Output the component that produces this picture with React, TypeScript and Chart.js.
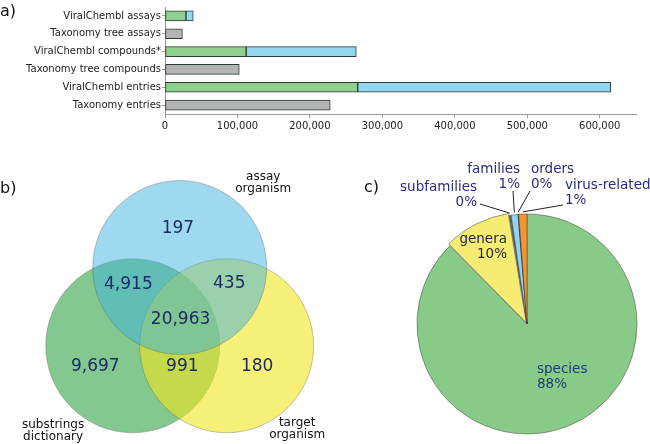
import React, { useEffect, useRef } from 'react';
import { Chart, registerables } from 'chart.js';

Chart.register(...registerables);

const FONT = "'DejaVu Sans', 'Liberation Sans', sans-serif";
Chart.defaults.font.family = FONT;

// ---------- Panel a: stacked horizontal bars ----------
const BAR_CATEGORIES = [
  'ViralChembl assays',
  'Taxonomy tree assays',
  'ViralChembl compounds*',
  'Taxonomy tree compounds',
  'ViralChembl entries',
  'Taxonomy entries',
];
const VIRALCHEMBL_GREEN = [29000, null, 112000, null, 266000, null];
const VIRALCHEMBL_BLUE = [10000, null, 152000, null, 349000, null];
const TAXONOMY_GRAY = [null, 24000, null, 102500, null, 228000];
const X_TICKS = [0, 100000, 200000, 300000, 400000, 500000, 600000];
const X_MAX = 650000;

// ---------- Panel b: Venn diagram ----------
const VENN_SET_NAMES = [['assay', 'organism'], ['substrings', 'dictionary'], ['target', 'organism']];
const VENN_REGION_COUNTS = [197, 4915, 435, 20963, 9697, 991, 180];

// ---------- Panel c: pie ----------
const PIE_LABELS = ['species', 'genera', 'subfamilies', 'families', 'orders', 'virus-related'];
const PIE_VALUES = [87.6, 9.8, 0.3, 1.0, 0.1, 1.2];

// ---------- layout / style (not data) ----------
const VENN_RADIUS = 1;
const VENN_CENTERS = [[0, 0.6], [-0.54, -0.3], [0.54, -0.3]];
const VENN_VIEW = { xMin: -2.066, xMax: 1.728, yMin: -1.429, yMax: 2.066 };
const VENN_FILLS = ['rgba(61,179,223,0.5)', 'rgba(48,165,68,0.6)', 'rgba(240,228,30,0.6)'];
const VENN_REGION_POS = [
  [-0.02, 1.05], [-0.59, 0.4], [0.57, 0.42], [0.01, 0.0], [-0.97, -0.54], [0.03, -0.54], [0.89, -0.54],
];
const VENN_NAME_POS = [[0.96, 1.64], [-1.456, -1.21], [1.35, -1.19]];

const PIE_COLORS = ['#88ca88', '#f6ec74', '#666666', '#8fd5f0', '#333333', '#f59530'];
const PIE_OFFSETS = [0, 6, 0, 0, 0, 0];
// text anchor offsets (px from pie centre), alignment, optional leader start
const PIE_TEXT = [
  { dx: 10, dy: 45, align: 'left', color: '#1f3b78' },
  { dx: -20, dy: -85, align: 'right', color: '#2a2a2a' },
  { dx: -50, dy: -137, align: 'right', color: '#2b2b85', leader: [-47, -120] },
  { dx: -7, dy: -155, align: 'right', color: '#2b2b85', leader: [-14, -133] },
  { dx: 4, dy: -155, align: 'left', color: '#2b2b85', leader: [3, -133] },
  { dx: 38, dy: -139, align: 'left', color: '#2b2b85', leader: [36, -119] },
];

const fmt = (v: number) => Number(v).toLocaleString('en-US');

const vennLabelsPlugin = {
  id: 'vennLabels',
  afterDatasetsDraw(chart: any) {
    const { ctx, scales } = chart;
    const px = (p: number[]) => [scales.x.getPixelForValue(p[0]), scales.y.getPixelForValue(p[1])];
    ctx.save();
    ctx.textAlign = 'center';
    ctx.textBaseline = 'middle';
    ctx.fillStyle = '#1d2b66';
    ctx.font = `17px ${FONT}`;
    VENN_REGION_COUNTS.forEach((c, i) => {
      const [x, y] = px(VENN_REGION_POS[i]);
      ctx.fillText(fmt(c), x, y);
    });
    ctx.fillStyle = '#111';
    ctx.font = `12px ${FONT}`;
    VENN_SET_NAMES.forEach((lines, i) => {
      const [x, y] = px(VENN_NAME_POS[i]);
      lines.forEach((t, j) => ctx.fillText(t, x, y + j * 11.5));
    });
    ctx.restore();
  },
};

const pieLabelsPlugin = {
  id: 'pieLabels',
  afterDatasetsDraw(chart: any) {
    const { ctx } = chart;
    const meta = chart.getDatasetMeta(0);
    const total = PIE_VALUES.reduce((a, b) => a + b, 0);
    ctx.save();
    meta.data.forEach((arc: any, i: number) => {
      const { x, y, startAngle, endAngle, outerRadius } = arc.getProps(
        ['x', 'y', 'startAngle', 'endAngle', 'outerRadius'], true);
      const t = PIE_TEXT[i];
      if (t.leader) {
        const mid = (startAngle + endAngle) / 2;
        ctx.beginPath();
        ctx.strokeStyle = '#222';
        ctx.lineWidth = 1;
        ctx.moveTo(x + t.leader[0], y + t.leader[1]);
        ctx.lineTo(x + Math.cos(mid) * outerRadius * 1.02, y + Math.sin(mid) * outerRadius * 1.02);
        ctx.stroke();
      }
      const pct = Math.round((PIE_VALUES[i] / total) * 100) + '%';
      ctx.fillStyle = t.color;
      ctx.font = `13.5px ${FONT}`;
      ctx.textAlign = t.align;
      ctx.textBaseline = 'middle';
      ctx.fillText(PIE_LABELS[i], x + t.dx, y + t.dy);
      ctx.fillText(pct, x + t.dx, y + t.dy + 15.5);
    });
    ctx.restore();
  },
};

export default function App() {
  const barRef = useRef<HTMLCanvasElement>(null);
  const vennRef = useRef<HTMLCanvasElement>(null);
  const pieRef = useRef<HTMLCanvasElement>(null);

  useEffect(() => {
    const tickFont = { family: FONT, size: 10 };
    const barDs = (data: any[], color: string) => ({
      data,
      backgroundColor: color,
      borderColor: '#2b3a33',
      borderWidth: 1,
      borderSkipped: false,
      barThickness: 10,
    });
    const bar = new Chart(barRef.current!, {
      type: 'bar',
      data: {
        labels: BAR_CATEGORIES,
        datasets: [
          barDs(VIRALCHEMBL_GREEN, '#8fd08c'),
          barDs(VIRALCHEMBL_BLUE, '#93d7f1'),
          barDs(TAXONOMY_GRAY, '#b4b4b4'),
        ],
      },
      options: {
        indexAxis: 'y',
        animation: false,
        responsive: false,
        events: [],
        layout: { padding: { top: 6, right: 14, left: 0, bottom: 0 }, autoPadding: false },
        plugins: { legend: { display: false }, tooltip: { enabled: false } },
        scales: {
          x: {
            stacked: true,
            min: 0,
            max: X_MAX,
            afterBuildTicks: (s: any) => { s.ticks = X_TICKS.map((v) => ({ value: v })); },
            ticks: {
              autoSkip: false,
              font: tickFont,
              color: '#222',
              padding: 2,
              maxRotation: 0,
              callback: (v: any) => fmt(v),
            },
            grid: { drawOnChartArea: false, tickLength: 4, color: '#999' },
            border: { color: '#999' },
            afterFit: (s: any) => { s.height = 26; },
          },
          y: {
            stacked: true,
            ticks: { font: tickFont, color: '#222', padding: 1 },
            grid: { drawOnChartArea: false, tickLength: 3, color: '#999', offset: false },
            border: { color: '#999' },
            afterFit: (s: any) => { s.width = 165; },
          },
        },
      } as any,
    });

    const unitPx = (ctx: any) => {
      const s = ctx.chart.scales.x;
      const r = s.getPixelForValue(VENN_RADIUS) - s.getPixelForValue(0);
      return isFinite(r) && r > 0 ? r : 1;
    };
    const venn = new Chart(vennRef.current!, {
      type: 'scatter',
      data: {
        datasets: [{
          data: [VENN_CENTERS[1], VENN_CENTERS[2], VENN_CENTERS[0]].map(([x, y]) => ({ x, y })),
          backgroundColor: [VENN_FILLS[1], VENN_FILLS[2], VENN_FILLS[0]],
          borderColor: 'rgba(90,90,90,0.35)',
          borderWidth: 1,
          pointRadius: unitPx,
          pointHoverRadius: unitPx,
        }],
      },
      options: {
        animation: false,
        responsive: false,
        events: [],
        layout: { padding: 0, autoPadding: false },
        plugins: { legend: { display: false }, tooltip: { enabled: false } },
        scales: {
          x: { type: 'linear', display: false, min: VENN_VIEW.xMin, max: VENN_VIEW.xMax },
          y: { type: 'linear', display: false, min: VENN_VIEW.yMin, max: VENN_VIEW.yMax },
        },
      } as any,
      plugins: [vennLabelsPlugin],
    });

    const pie = new Chart(pieRef.current!, {
      type: 'pie',
      data: {
        labels: PIE_LABELS,
        datasets: [{
          data: PIE_VALUES,
          backgroundColor: PIE_COLORS,
          borderColor: 'rgba(60,60,60,0.7)',
          borderWidth: 0.7,
          offset: PIE_OFFSETS,
        }],
      },
      options: {
        animation: false,
        responsive: false,
        events: [],
        radius: 110,
        layout: { padding: { left: 87, right: 13, top: 74, bottom: 10 }, autoPadding: false },
        plugins: { legend: { display: false }, tooltip: { enabled: false } },
      } as any,
      plugins: [pieLabelsPlugin],
    });

    return () => { bar.destroy(); venn.destroy(); pie.destroy(); };
  }, []);

  const panelLabel = (text: string, left: number, top: number) => (
    <div style={{ position: 'absolute', left, top, fontSize: 16, lineHeight: '16px', fontFamily: FONT, color: '#111' }}>{text}</div>
  );

  return (
    <div style={{ position: 'fixed', left: 0, top: 0, width: 650, height: 444, background: '#fff', overflow: 'hidden' }}>
      <canvas ref={barRef} width={650} height={140} style={{ position: 'absolute', left: 0, top: 0, width: 650, height: 140 }} />
      <canvas ref={vennRef} width={330} height={304} style={{ position: 'absolute', left: 0, top: 140, width: 330, height: 304 }} />
      <canvas ref={pieRef} width={320} height={304} style={{ position: 'absolute', left: 330, top: 140, width: 320, height: 304 }} />
      {panelLabel('a)', 0, 3)}
      {panelLabel('b)', 0, 180)}
      {panelLabel('c)', 364, 179)}
    </div>
  );
}
